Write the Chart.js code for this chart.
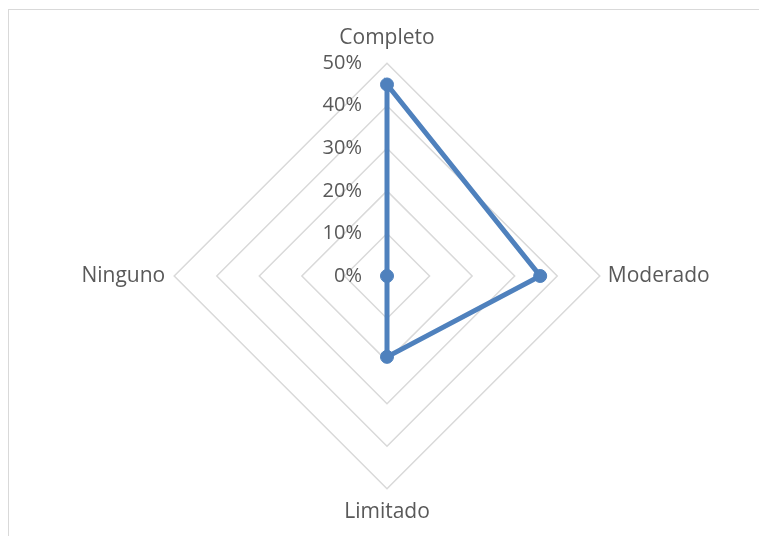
<!DOCTYPE html>
<html>
<head>
<meta charset="utf-8">
<script src="https://cdn.jsdelivr.net/npm/chart.js@4/dist/chart.umd.min.js"></script>
<style>
  html, body { margin: 0; padding: 0; background: #fff; }
  #wrap { position: relative; width: 759px; height: 536px; overflow: hidden; }
  #frame { position: absolute; left: 8px; top: 9px; width: 800px; height: 600px; border: 1px solid #d9d9d9; box-sizing: border-box; }
  canvas { position: absolute; left: 0; top: 0; }
</style>
</head>
<body>
<div id="wrap">
  <div id="frame"></div>
  <canvas id="radarChart" width="759" height="536"></canvas>
</div>
<script>
// Data
const categories = ['Completo', 'Moderado', 'Limitado', 'Ninguno'];
const shares = [45, 36, 19, 0];
const tickLabels = ['0%', '10%', '20%', '30%', '40%', '50%'];

const textColor = '#595959';
const fontFamily = '"Open Sans", sans-serif';
// gap between outer ring and each category label (top, right, bottom, left)
const labelGaps = [13, 8, 11, 9];

// Tick labels sit left of the vertical axis, right-aligned (Excel style)
const sideTicks = {
    id: 'sideTicks',
    afterDraw(chart) {
        const scale = chart.scales.r;
        const ctx = chart.ctx;
        ctx.save();
        ctx.font = `20px ${fontFamily}`;
        ctx.fillStyle = textColor;
        ctx.textAlign = 'right';
        ctx.textBaseline = 'middle';
        scale.ticks.forEach((t, i) => {
            const d = scale.getDistanceFromCenterForValue(t.value);
            ctx.fillText(tickLabels[i], scale.xCenter - 25, scale.yCenter - d);
        });
        ctx.restore();
    }
};

const ctx = document.getElementById('radarChart').getContext('2d');
new Chart(ctx, {
    type: 'radar',
    data: {
        labels: categories,
        datasets: [{
            data: shares,
            borderColor: '#4f81bd',
            backgroundColor: '#4f81bd',
            borderWidth: 5,
            fill: false,
            pointRadius: 6.5,
            pointBorderWidth: 1,
            pointBackgroundColor: '#4f81bd',
            tension: 0
        }]
    },
    options: {
        responsive: false,
        animation: false,
        layout: { padding: { left: 20, right: 4, top: 24, bottom: 9 } },
        plugins: { legend: { display: false }, tooltip: { enabled: false } },
        scales: {
            r: {
                min: 0,
                max: 50,
                ticks: { stepSize: 10, display: false },
                grid: { color: '#d9d9d9', lineWidth: 1.5 },
                angleLines: { display: false },
                pointLabels: {
                    color: textColor,
                    padding: c => labelGaps[c.index],
                    font: { family: fontFamily, size: 21 }
                }
            }
        }
    },
    plugins: [sideTicks]
});
</script>
</body>
</html>
